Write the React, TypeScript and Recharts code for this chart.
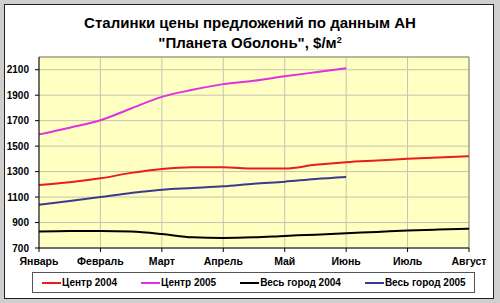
import { LineChart, Line, XAxis, YAxis, CartesianGrid, ReferenceLine } from 'recharts';

// half-month steps: 0 = Январь, 2 = Февраль, ... 14 = Август
const periods = [0, 1, 2, 3, 4, 5, 6, 7, 8, 9, 10, 11, 12, 13, 14];
const months = ['Январь', 'Февраль', 'Март', 'Апрель', 'Май', 'Июнь', 'Июль', 'Август'];
const monthTicks = [0, 2, 4, 6, 8, 10, 12, 14];
const yTicks = [700, 900, 1100, 1300, 1500, 1700, 1900, 2100];

const center2004 = [1195, 1216, 1247, 1290, 1321, 1334, 1334, 1324, 1324, 1353, 1374, 1387, 1400, 1411, 1421];
const center2005 = [1592, 1645, 1703, 1796, 1887, 1942, 1987, 2013, 2048, 2080, 2111, null, null, null, null];
const city2004 = [829, 834, 834, 829, 810, 784, 779, 784, 795, 805, 816, 826, 837, 845, 852];
const city2005 = [1040, 1069, 1100, 1132, 1158, 1171, 1184, 1205, 1221, 1242, 1258, null, null, null, null];

const series = [
    { key: 'c04', name: 'Центр 2004', color: '#ea1c1c', values: center2004 },
    { key: 'c05', name: 'Центр 2005', color: '#e030e0', values: center2005 },
    { key: 'g04', name: 'Весь город 2004', color: '#000000', values: city2004 },
    { key: 'g05', name: 'Весь город 2005', color: '#3a3a90', values: city2005 },
];

const data = periods.map((t, i) => {
    const row: Record<string, number | null> = { t };
    series.forEach((s) => (row[s.key] = s.values[i]));
    return row;
});

const font = '"Liberation Sans", Arial, sans-serif';
const yTickStyle = { fontSize: 10, fontWeight: 700, fill: '#000', fontFamily: font };
const xTickStyle = { fontSize: 10.5, fontWeight: 700, fill: '#000', fontFamily: font };

export default function App() {
    return (
        <div style={{ position: 'absolute', left: 0, top: 0, width: 500, height: 303, background: '#cfcfcf', fontFamily: font }}>
            <div style={{ position: 'absolute', left: 4, top: 4, width: 488, height: 293, background: '#fff', border: '1px solid #222' }} />
            <div style={{ position: 'absolute', left: 0, top: 13, width: 500, textAlign: 'center', fontSize: 15, fontWeight: 700, lineHeight: '20px', color: '#000' }}>
                <div>Сталинки цены предложений по данным АН</div>
                <div>
                    "Планета Оболонь", $/м<sup style={{ fontSize: 9, verticalAlign: 'top', lineHeight: '14px' }}>2</sup>
                </div>
            </div>
            <div style={{ position: 'absolute', left: 0, top: 0 }}>
                <LineChart width={500} height={303} data={data} margin={{ top: 57, right: 31, bottom: 35, left: 0 }}>
                    <CartesianGrid stroke="#c4c4b0" fill="#ffffc2" fillOpacity={1} />
                    <XAxis
                        dataKey="t"
                        type="number"
                        domain={[0, 14]}
                        ticks={monthTicks}
                        interval={0}
                        tickFormatter={(v: number) => months[v / 2]}
                        tick={xTickStyle}
                        tickSize={4}
                        tickMargin={6}
                        height={20}
                        stroke="#000"
                    />
                    <YAxis
                        domain={[700, 2200]}
                        ticks={yTicks}
                        interval={0}
                        tick={yTickStyle}
                        tickSize={4}
                        tickMargin={6}
                        width={39}
                        stroke="#000"
                        allowDataOverflow
                    />
                    <ReferenceLine y={2200} stroke="#8c8c70" />
                    <ReferenceLine x={14} stroke="#8c8c70" />
                    {series.map((s) => (
                        <Line
                            key={s.key}
                            dataKey={s.key}
                            name={s.name}
                            type="monotone"
                            stroke={s.color}
                            strokeWidth={2}
                            dot={false}
                            isAnimationActive={false}
                        />
                    ))}
                </LineChart>
            </div>
            <div
                style={{
                    position: 'absolute',
                    left: 32,
                    top: 272,
                    width: 432,
                    height: 19,
                    background: '#fff',
                    border: '1px solid #555',
                    display: 'flex',
                    alignItems: 'center',
                    gap: 24,
                    paddingLeft: 9,
                    boxSizing: 'content-box',
                    fontSize: 10,
                    fontWeight: 700,
                    color: '#000',
                }}
            >
                {series.map((s) => (
                    <div key={s.key} style={{ display: 'flex', alignItems: 'center', whiteSpace: 'nowrap' }}>
                        <span style={{ display: 'inline-block', width: 19, height: 2, background: s.color, marginRight: 1 }} />
                        <span>{s.name}</span>
                    </div>
                ))}
            </div>
        </div>
    );
}
